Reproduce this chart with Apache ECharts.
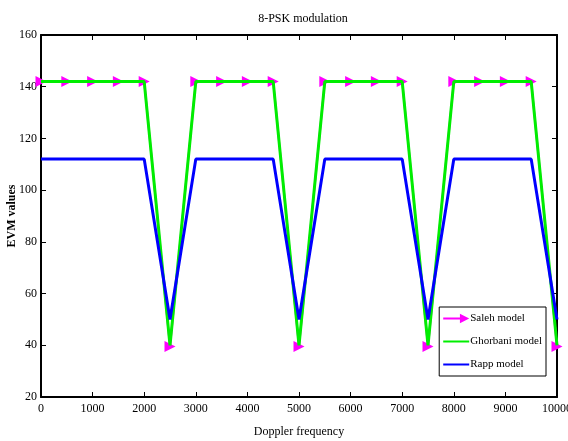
<!DOCTYPE html>
<html><head><meta charset="utf-8">
<script src="https://cdn.jsdelivr.net/npm/echarts@6/dist/echarts.min.js"></script>
<style>html,body{margin:0;padding:0;background:#fff}#c{width:568px;height:441px}</style>
</head><body><div id="c"></div>
<script>
const freq = [0,500,1000,1500,2000,2500,3000,3500,4000,4500,5000,5500,6000,6500,7000,7500,8000,8500,9000,9500,10000];
const saleh = [142,142,142,142,142,39.5,142,142,142,142,39.5,142,142,142,142,39.5,142,142,142,142,39.5];
const ghorbani = [142,142,142,142,142,40,142,142,142,142,40,142,142,142,142,40,142,142,142,142,40];
const rapp = [112,112,112,112,112,50,112,112,112,112,50,112,112,112,112,50,112,112,112,112,50];
const xTicks = [0,1000,2000,3000,4000,5000,6000,7000,8000,9000,10000];
const yTicks = [20,40,60,80,100,120,140,160];

const font = 'Liberation Serif';
const pair = (xs, ys) => xs.map((x,i)=>[x, ys[i]]);
const chart = echarts.init(document.getElementById('c'));
const axBase = {
  axisLine:{show:true,onZero:false,lineStyle:{color:'#000',width:2}},
  axisTick:{show:true,inside:true,length:5,lineStyle:{color:'#000',width:1}},
  splitLine:{show:false}
};
chart.setOption({
  animation:false,
  title:{text:'8-PSK modulation',left:298,top:8,textAlign:'center',
    textStyle:{fontFamily:font,fontSize:12,fontWeight:'normal',color:'#000'}},
  grid:{left:41,right:11,top:35,bottom:44,containLabel:false,outerBoundsMode:'none'},
  legend:{
    right:22,top:307,orient:'vertical',
    padding:[6,4,6,3],itemGap:12,itemWidth:26,itemHeight:10,
    borderColor:'#000',borderWidth:1,backgroundColor:'#fff',
    textStyle:{fontFamily:font,fontSize:11,color:'#000',padding:[0,0,0,-4]},
    data:[
      {name:'Saleh model',icon:'path://M0,4H18V0L28,5L18,10V6H0Z'},
      {name:'Ghorbani model',itemStyle:{opacity:0}},
      {name:'Rapp model',itemStyle:{opacity:0}}
    ]
  },
  xAxis:[
    Object.assign({type:'value',min:0,max:10000,interval:1000,position:'bottom',
      name:'Doppler frequency',nameLocation:'middle',nameGap:29,nameMoveOverlap:false,
      nameTextStyle:{fontFamily:font,fontSize:12,color:'#000'},
      axisLabel:{fontFamily:font,fontSize:12,color:'#000',margin:6,
        formatter:v=>xTicks.includes(v)?String(v):''}},axBase),
    Object.assign({type:'value',min:0,max:10000,interval:1000,position:'top',
      axisLabel:{show:false}},axBase)
  ],
  yAxis:[
    Object.assign({type:'value',min:20,max:160,interval:20,position:'left',
      name:'EVM values',nameLocation:'middle',nameGap:23,nameMoveOverlap:false,
      nameTextStyle:{fontFamily:font,fontSize:12,fontWeight:'bold',color:'#000'},
      axisLabel:{fontFamily:font,fontSize:12,color:'#000',margin:4,
        formatter:v=>yTicks.includes(v)?String(v):''}},axBase),
    Object.assign({type:'value',min:20,max:160,interval:20,position:'right',
      axisLabel:{show:false}},axBase)
  ],
  series:[
    {name:'Saleh model',type:'line',data:pair(freq,saleh),color:'#ff00ff',
      symbol:'triangle',symbolSize:[11,11],symbolRotate:-90,showAllSymbol:true,
      lineStyle:{color:'#ff00ff',width:2},itemStyle:{color:'#ff00ff'},z:2},
    {name:'Ghorbani model',type:'line',data:pair(freq,ghorbani),color:'#00ee00',
      showSymbol:false,lineStyle:{color:'#00ee00',width:3},z:3},
    {name:'Rapp model',type:'line',data:pair(freq,rapp),color:'#0000ff',
      showSymbol:false,lineStyle:{color:'#0000ff',width:3},z:4}
  ]
});
</script></body></html>
